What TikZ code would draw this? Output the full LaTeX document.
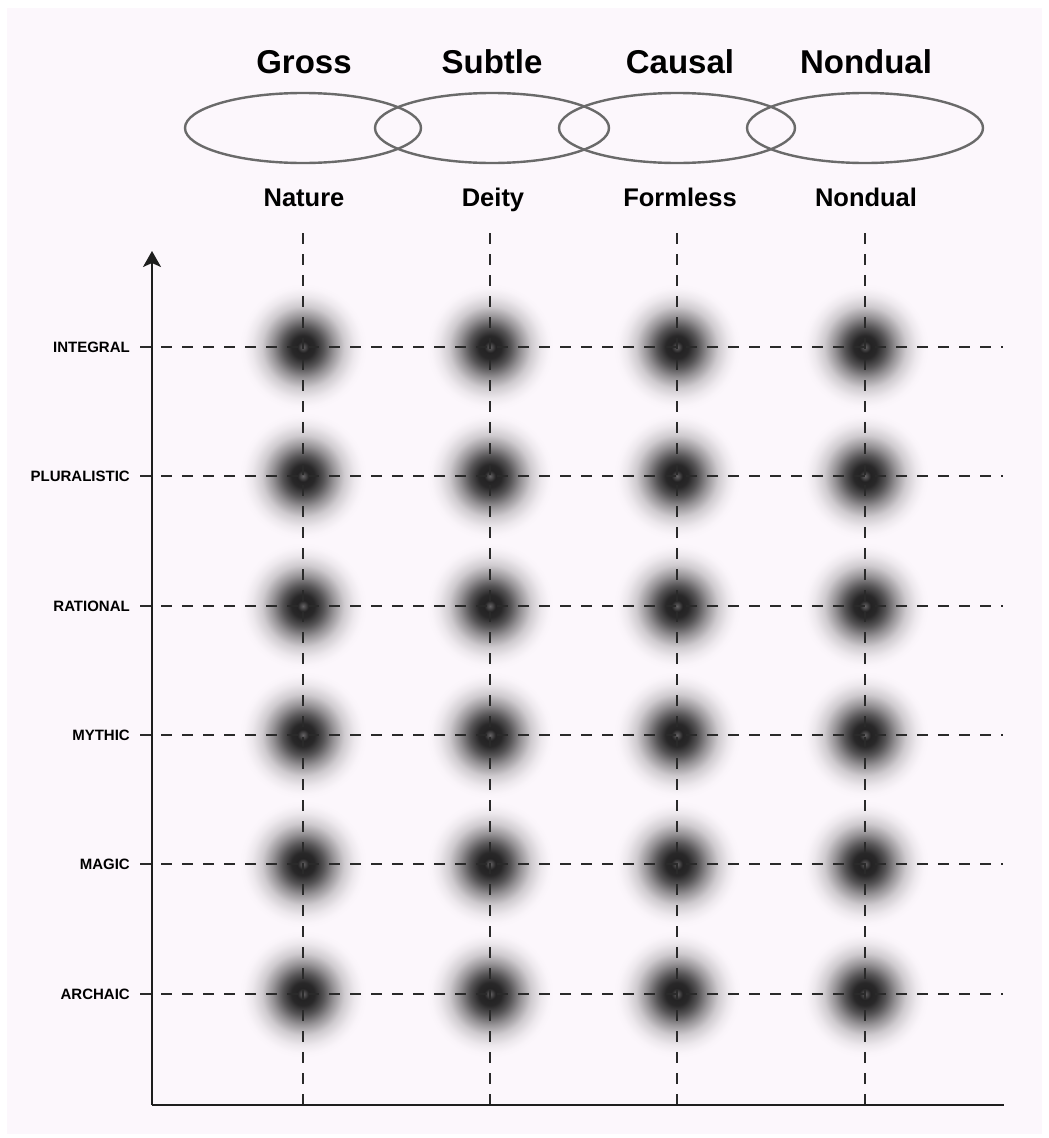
\documentclass[tikz,border=0pt]{standalone}
\usepackage{fontspec}
\setmainfont{Liberation Sans}
\usetikzlibrary{arrows.meta}
\definecolor{bg}{HTML}{FCF7FC}
\definecolor{ink}{HTML}{1E1E1E}
\definecolor{dashink}{HTML}{2A2A2A}
\definecolor{ringink}{HTML}{6A6A6A}
\pgfdeclareradialshading{blob}{\pgfpoint{0bp}{0bp}}{color(0bp)=(black!60!bg); color(2.2bp)=(black!86!bg); color(4.5bp)=(black!84!bg); color(8bp)=(black!66!bg); color(12bp)=(black!40!bg); color(16bp)=(black!18!bg); color(20bp)=(black!6!bg); color(23bp)=(black!1!bg); color(25bp)=(bg); color(50bp)=(bg)}
\tikzset{
  ring/.style={draw=ringink, line width=2.4pt},
  title/.style={font=\bfseries\fontsize{33}{38}\selectfont, text=black, anchor=base, inner sep=0pt},
  subtitle/.style={font=\bfseries\fontsize{25.5}{30}\selectfont, text=black, anchor=base, inner sep=0pt},
  rowlabel/.style={font=\bfseries\fontsize{15}{18}\selectfont, text=black, anchor=base east, inner sep=0pt},
  hdash/.style={draw=dashink, line width=2.2pt, dash pattern=on 11pt off 10pt},
  vdash/.style={draw=dashink, line width=1.8pt, dash pattern=on 11pt off 10pt},
  axisline/.style={draw=ink, line width=2pt},
  blobshade/.style={shading=blob}
}
\begin{document}
\begin{tikzpicture}[x=1pt,y=-1pt]
\useasboundingbox (0,0) rectangle (1049,1138);
\fill[bg] (7,8) rectangle (1042,1134);

% ellipses
\draw[ring] (303,128) ellipse [x radius=118, y radius=35];
\draw[ring] (492,128) ellipse [x radius=117, y radius=35];
\draw[ring] (677,128) ellipse [x radius=118, y radius=35];
\draw[ring] (865,128) ellipse [x radius=118, y radius=35];

% titles
\node[title] (tGross) at (304,73) {Gross};
\node[title] (tSubtle) at (492,73) {Subtle};
\node[title] (tCausal) at (680,73) {Causal};
\node[title] (tNondual) at (866,73) {Nondual};

\node[subtitle] (sNature) at (304,206) {Nature};
\node[subtitle] (sDeity) at (493,206) {Deity};
\node[subtitle] (sFormless) at (680,206) {Formless};
\node[subtitle] (sNondual) at (866,206) {Nondual};

% blobs
\foreach \x in {303,490,677,865}{
  \foreach \y in {347,476,606,735,864,994}{
    \shade[blobshade] (\x,\y) circle (64);
  }
}

% columns
\foreach \i/\x in {1/303,2/490,3/677,4/865}{
  \coordinate (ct\i) at (\x,233);
  \coordinate (cb\i) at (\x,1105);
  \draw[vdash] (ct\i) -- (cb\i);
}

% rows
\foreach \i/\name/\y in {1/INTEGRAL/347,2/PLURALISTIC/476,3/RATIONAL/606,4/MYTHIC/735,5/MAGIC/864,6/ARCHAIC/994}{
  \node[rowlabel] (r\i) at (130,\y+5.5) {\name};
  \coordinate (rs\i) at (140,\y);
  \coordinate (re\i) at (1003,\y);
  \draw[hdash] (rs\i) -- (re\i);
}

% axes
\coordinate (origin) at (152,1105);
\coordinate (ytop) at (152,251);
\coordinate (xend) at (1004,1105);
\draw[axisline, -{Stealth[length=16pt, width=18pt, inset=4pt]}] (origin) -- (ytop);
\draw[axisline] (origin) -- (xend);
\end{tikzpicture}
\end{document}
